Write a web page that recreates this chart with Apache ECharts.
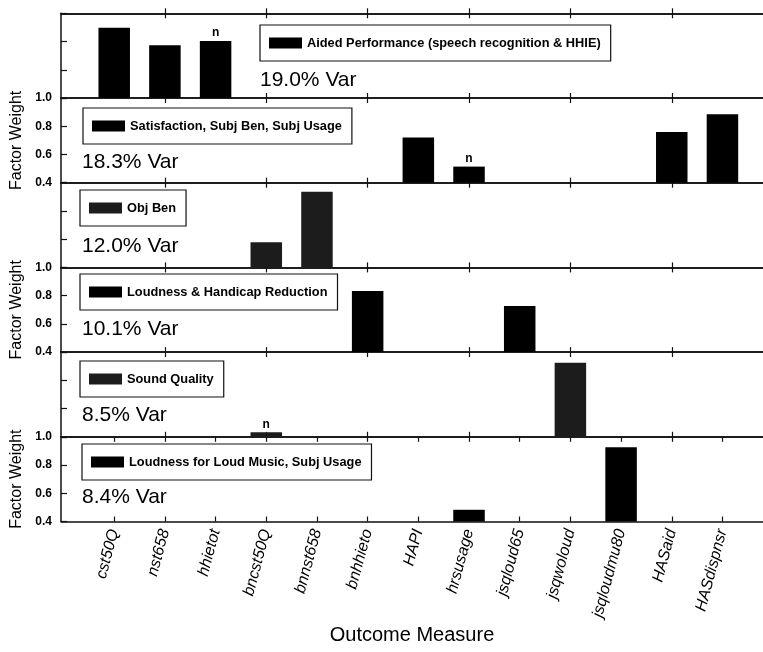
<!DOCTYPE html>
<html>
<head>
<meta charset="utf-8">
<script src="https://cdn.jsdelivr.net/npm/echarts@6/dist/echarts.min.js"></script>
<style>
  html, body { margin: 0; padding: 0; background: #fff; }
  #chart { width: 763px; height: 652px; }
</style>
</head>
<body>
<div id="chart"></div>
<script>
// Outcome measures along the x axis
const categories = ['cst50Q', 'nst658', 'hhietot', 'bncst50Q', 'bnnst658', 'bnhhieto', 'HAPI',
  'hrsusage', 'jsqloud65', 'jsqwoloud', 'jsqloudmu80', 'HASaid', 'HASdispnsr'];

// Factor names and percentage of variance each one explains
const factorNames = [
  'Aided Performance (speech recognition & HHIE)',
  'Satisfaction, Subj Ben, Subj Usage',
  'Obj Ben',
  'Loudness & Handicap Reduction',
  'Sound Quality',
  'Loudness for Loud Music, Subj Usage'
];
const varianceExplained = [19.0, 18.3, 12.0, 10.1, 8.5, 8.4];

// Factor weights per outcome measure (null = not loading on that factor)
const aidedPerformance = [0.898, 0.774, 0.804, null, null, null, null, null, null, null, null, null, null];
const satisfaction     = [null, null, null, null, null, null, 0.72, 0.514, null, null, null, 0.76, 0.885];
const objectiveBenefit = [null, null, null, 0.579, 0.936, null, null, null, null, null, null, null, null];
const loudnessHandicap = [null, null, null, null, null, 0.833, null, null, 0.727, null, null, null, null];
const soundQuality     = [null, null, null, 0.432, null, null, null, null, null, 0.924, null, null, null];
const loudMusic        = [null, null, null, null, null, null, null, 0.483, null, null, 0.926, null, null];

// Measures marked "n" (negative loading) in each factor
const negativeMarks = [['hhietot'], ['hrsusage'], [], [], ['bncst50Q'], []];

// Factor-weight axis
const yMin = 0.4, yMax = 1.0, yStep = 0.2;

const factorWeights = [aidedPerformance, satisfaction, objectiveBenefit, loudnessHandicap, soundQuality, loudMusic];

// ---- layout ----
const FONT = "'Liberation Sans', Arial, sans-serif";
const INK = '#111';
const PLOT_LEFT = 61;
const PANEL_TOP = 13.3;
const PANEL_H = 84.7;
const X_MIN = -0.05, X_MAX = 13.8;
const barColors = ['#000', '#000', '#1c1c1c', '#000', '#1c1c1c', '#000'];
const legendPos = [[260, 25], [83, 108], [80, 190], [80, 274], [80, 361], [82, 444]];
const varPos = [[260, 80.5], [82, 162.5], [82, 246], [82, 329.5], [82, 415.7], [82, 497.5]];

const allPositions = categories.map((c, i) => i + 1);
const oddPositions = allPositions.filter((p, i) => i % 2 === 1);
const lastPanel = factorWeights.length - 1;

const grids = [];
const xAxes = [];
const yAxes = [];
const series = [];
const legends = [];
const graphics = [];

function xAxisFor(k, position, ticks, inside, withLabels) {
  const ax = {
    type: 'value', gridIndex: k, position: position, min: X_MIN, max: X_MAX,
    splitLine: { show: false },
    axisLine: { show: true, onZero: false, lineStyle: { color: INK, width: 1.5 } },
    axisTick: { show: true, inside: inside, length: 5, customValues: ticks, lineStyle: { color: INK, width: 1.2 } },
    axisLabel: { show: false }
  };
  if (withLabels) {
    ax.axisLabel = {
      show: true, customValues: allPositions, rotate: 75, margin: 8,
      fontFamily: FONT, fontSize: 16, fontStyle: 'italic', color: '#000',
      formatter: v => categories[Math.round(v) - 1] || ''
    };
    ax.name = 'Outcome Measure';
    ax.nameLocation = 'middle';
    ax.nameGap = 104;
    ax.nameTextStyle = { fontFamily: FONT, fontSize: 20, color: '#000' };
  }
  return ax;
}

factorWeights.forEach((vals, k) => {
  grids.push({ left: PLOT_LEFT, right: 0, top: PANEL_TOP + k * PANEL_H, height: PANEL_H });

  const ticks = k === lastPanel ? allPositions : oddPositions;
  const bottomIndex = xAxes.length;
  xAxes.push(xAxisFor(k, 'bottom', ticks, true, k === lastPanel));
  xAxes.push(xAxisFor(k, 'top', ticks, true, false));
  if (k === 0) xAxes.push(xAxisFor(k, 'top', oddPositions, false, false));

  const labelled = k % 2 === 1;
  yAxes.push({
    type: 'value', gridIndex: k, min: yMin, max: yMax, interval: yStep, startValue: yMin,
    splitLine: { show: false },
    axisLine: { show: true, onZero: false, lineStyle: { color: INK, width: 1.5 } },
    axisTick: { show: true, inside: true, length: 6, lineStyle: { color: INK, width: 1.2 } },
    axisLabel: {
      show: labelled, margin: 9, fontFamily: FONT, fontSize: 12, fontWeight: 'bold', color: '#000',
      formatter: v => v.toFixed(1)
    },
    name: labelled ? 'Factor Weight' : '',
    nameLocation: 'middle', nameGap: 33,
    nameTextStyle: { fontFamily: FONT, fontSize: 16, color: '#000' }
  });

  const data = [];
  vals.forEach((v, i) => {
    if (v == null) return;
    const item = { value: [i + 1, v] };
    if (negativeMarks[k].includes(categories[i])) {
      item.label = {
        show: true, position: 'top', distance: 2, formatter: 'n',
        fontFamily: FONT, fontSize: 12, fontWeight: 'bold', color: '#000'
      };
    }
    data.push(item);
  });

  series.push({
    type: 'bar', name: factorNames[k], xAxisIndex: bottomIndex, yAxisIndex: k,
    barWidth: 31.5, itemStyle: { color: barColors[k] }, data: data, animation: false
  });

  legends.push({
    data: [factorNames[k]], left: legendPos[k][0], top: legendPos[k][1],
    orient: 'horizontal', selectedMode: false, icon: 'rect',
    itemWidth: 33, itemHeight: 11, padding: [11.5, 10, 11.5, 9],
    borderColor: INK, borderWidth: 1.2, borderRadius: 0, backgroundColor: '#fff',
    textStyle: { fontFamily: FONT, fontSize: 12.8, fontWeight: 'bold', color: '#000' }
  });

  graphics.push({
    type: 'text', x: varPos[k][0], y: varPos[k][1],
    style: {
      text: varianceExplained[k].toFixed(1) + '% Var',
      font: '21px ' + FONT, fill: '#000', textVerticalAlign: 'middle'
    }
  });
});

const chart = echarts.init(document.getElementById('chart'), null, { renderer: 'canvas' });
chart.setOption({
  backgroundColor: '#fff',
  animation: false,
  grid: grids,
  xAxis: xAxes,
  yAxis: yAxes,
  legend: legends,
  series: series,
  graphic: graphics
});
</script>
</body>
</html>
